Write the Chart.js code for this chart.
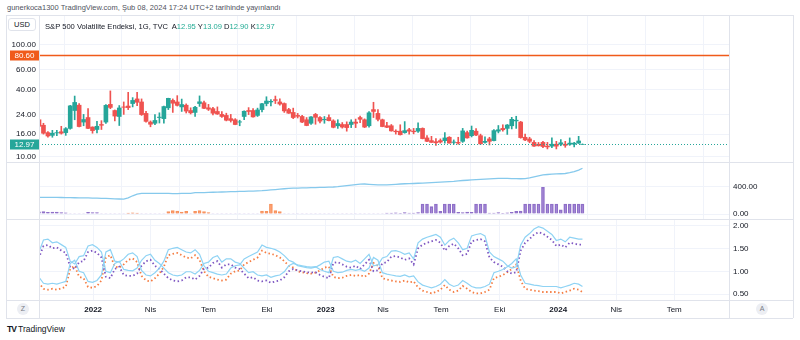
<!DOCTYPE html>
<html><head><meta charset="utf-8">
<script src="https://cdn.jsdelivr.net/npm/chart.js@4.4.1/dist/chart.umd.min.js"></script>
<style>
html,body{margin:0;padding:0;background:#fff;width:800px;height:340px;overflow:hidden;font-family:"Liberation Sans",Arial,sans-serif;color:#131722}
.abs{position:absolute}
canvas{position:absolute}
#hdr{left:7px;top:3px;font-size:7.5px;color:#50535e;white-space:nowrap}
.ln{position:absolute;background:#e0e3eb}
#usd{left:8px;top:18px;width:28px;height:13px;border:1px solid #e0e3eb;border-radius:3px;box-sizing:border-box;font-size:7.5px;line-height:12px;text-align:center;color:#131722;background:#fff}
#leg{left:45px;top:22px;font-size:7.6px;white-space:nowrap;color:#131722}
#leg b{font-weight:normal;color:#22ab94}
.circ{width:12px;height:12px;border-radius:6px;background:#eceef3;font-size:7px;line-height:12px;text-align:center;color:#787b86}
#logo{left:7px;top:324px;font-size:8.5px;color:#131722;white-space:nowrap}
</style></head>
<body>
<div id="hdr" class="abs">gunerkoca1300 TradingView.com, Şub 08, 2024 17:24 UTC+2 tarihinde yayınlandı</div>
<canvas id="c1" width="787" height="147" style="left:6px;top:15px"></canvas>
<canvas id="c2" width="787" height="57" style="left:6px;top:162px"></canvas>
<canvas id="c3" width="787" height="99" style="left:6px;top:219px"></canvas>
<div class="ln" style="left:6px;top:15px;width:787px;height:1px"></div>
<div class="ln" style="left:6px;top:162px;width:787px;height:1px"></div>
<div class="ln" style="left:6px;top:219px;width:787px;height:1px"></div>
<div class="ln" style="left:6px;top:300px;width:787px;height:1px"></div>
<div class="ln" style="left:6px;top:318px;width:787px;height:1px"></div>
<div class="ln" style="left:6px;top:15px;width:1px;height:303px"></div>
<div class="ln" style="left:39px;top:15px;width:1px;height:303px"></div>
<div class="ln" style="left:729px;top:15px;width:1px;height:303px"></div>
<div class="ln" style="left:793px;top:15px;width:1px;height:303px"></div>
<div id="usd" class="abs">USD</div>
<div id="leg" class="abs">S&amp;P 500 Volatilite Endeksi, 1G, TVC&nbsp; A<b>12.95</b> Y<b>13.09</b> D<b>12.90</b> K<b>12.97</b></div>
<div class="abs circ" style="left:17px;top:303px">Z</div>
<div class="abs circ" style="left:756px;top:303px">A</div>
<div id="logo" class="abs"><span style="font-weight:900;letter-spacing:-1px">TV</span> TradingView</div>
<script>
// ---------- DATA ----------
const weekDates = [
'2021-10-01','2021-10-08','2021-10-15','2021-10-22','2021-10-29','2021-11-05','2021-11-12','2021-11-19','2021-11-26','2021-12-03','2021-12-10','2021-12-17','2021-12-24','2021-12-31',
'2022-01-07','2022-01-14','2022-01-21','2022-01-28','2022-02-04','2022-02-11','2022-02-18','2022-02-25','2022-03-04','2022-03-11','2022-03-18','2022-03-25','2022-04-01','2022-04-08','2022-04-15','2022-04-22','2022-04-29','2022-05-06','2022-05-13','2022-05-20','2022-05-27','2022-06-03','2022-06-10','2022-06-17','2022-06-24','2022-07-01','2022-07-08','2022-07-15','2022-07-22','2022-07-29','2022-08-05','2022-08-12','2022-08-19','2022-08-26','2022-09-02','2022-09-09','2022-09-16','2022-09-23','2022-09-30','2022-10-07','2022-10-14','2022-10-21','2022-10-28','2022-11-04','2022-11-11','2022-11-18','2022-11-25','2022-12-02','2022-12-09','2022-12-16','2022-12-23','2022-12-30',
'2023-01-06','2023-01-13','2023-01-20','2023-01-27','2023-02-03','2023-02-10','2023-02-17','2023-02-24','2023-03-03','2023-03-10','2023-03-17','2023-03-24','2023-03-31','2023-04-07','2023-04-14','2023-04-21','2023-04-28','2023-05-05','2023-05-12','2023-05-19','2023-05-26','2023-06-02','2023-06-09','2023-06-16','2023-06-23','2023-06-30','2023-07-07','2023-07-14','2023-07-21','2023-07-28','2023-08-04','2023-08-11','2023-08-18','2023-08-25','2023-09-01','2023-09-08','2023-09-15','2023-09-22','2023-09-29','2023-10-06','2023-10-13','2023-10-20','2023-10-27','2023-11-03','2023-11-10','2023-11-17','2023-11-24','2023-12-01','2023-12-08','2023-12-15','2023-12-22','2023-12-29',
'2024-01-05','2024-01-12','2024-01-19','2024-01-26','2024-02-02','2024-02-08'];

const opens = [18.8,21.5,19.2,16.5,15.6,16.4,16.8,16.5,18.0,26.0,29.0,20.5,22.5,18.5,
17.6,19.5,20.5,29.5,26.0,23.0,28.0,28.5,30.0,33.0,31.0,24.5,20.5,20.0,22.5,22.0,27.5,32.0,31.0,28.0,29.0,26.0,25.0,30.0,30.5,27.5,27.0,25.5,24.0,23.5,22.0,21.5,20.5,23.0,26.0,26.0,23.5,26.5,30.0,31.0,32.5,31.0,30.0,26.5,25.0,23.5,23.0,21.5,20.0,24.0,22.5,21.5,
22.5,21.0,19.0,19.5,19.5,19.5,20.5,22.5,21.5,19.0,26.5,24.5,21.5,19.0,19.0,17.0,17.0,16.5,17.5,17.0,17.0,18.0,14.8,14.0,13.7,14.0,14.0,15.0,13.5,13.5,13.8,16.5,15.5,17.0,15.5,13.5,14.5,14.0,17.0,18.0,18.0,19.0,21.0,20.5,15.0,14.5,13.5,13.0,13.5,12.5,12.5,13.0,
13.0,13.0,13.0,13.0,13.3,12.95];
const highs = [23.4,23.0,20.0,16.9,17.3,17.3,18.8,18.3,28.9,35.0,30.0,24.0,27.0,18.6,
20.8,21.1,29.4,38.9,26.3,28.8,31.0,37.8,33.9,37.8,33.0,25.6,21.0,23.9,24.8,28.5,33.5,33.0,35.3,32.9,29.8,27.5,28.3,35.1,31.5,29.5,27.8,28.0,25.5,24.6,24.0,22.0,21.3,25.8,27.6,27.0,27.3,30.2,34.5,32.5,35.0,33.0,30.4,27.2,27.3,24.5,23.5,22.5,23.0,24.5,23.0,23.0,
23.8,21.5,21.5,20.3,20.6,21.5,21.8,23.2,21.9,25.5,30.8,26.5,21.8,20.4,19.5,17.5,19.4,20.7,18.0,18.0,20.2,18.2,15.5,15.3,14.6,14.5,16.5,15.2,14.2,15.0,18.0,17.0,18.9,17.9,16.0,15.1,15.0,17.6,19.1,19.4,19.5,22.6,23.1,20.8,16.0,15.0,14.0,13.5,13.8,13.5,14.8,13.8,
14.3,13.8,14.8,13.5,15.3,13.09];
const lows = [18.6,18.5,16.0,15.0,15.0,15.5,16.0,15.6,17.7,21.5,18.6,19.0,17.9,16.3,
16.4,17.6,19.9,27.0,21.0,19.1,24.0,26.5,28.0,28.7,23.5,20.5,18.6,19.4,20.1,20.0,26.5,25.0,28.5,25.5,24.7,24.2,23.0,28.3,27.0,26.0,23.8,24.0,22.5,21.0,20.5,19.4,19.0,21.5,23.9,22.7,23.0,25.3,28.6,28.6,30.0,29.0,25.0,24.5,22.0,22.3,20.3,19.0,19.5,19.6,20.1,20.0,
21.0,18.2,18.0,18.1,17.0,18.3,18.3,20.3,18.3,18.5,22.5,21.0,18.6,18.3,17.0,16.0,15.7,16.3,16.0,16.1,16.6,14.5,13.7,13.5,12.7,13.3,13.3,13.3,13.0,13.0,13.5,14.7,15.1,15.5,13.0,13.3,12.8,13.9,16.4,17.0,15.9,17.8,18.0,14.7,14.0,13.4,12.4,12.5,12.1,11.8,12.1,11.8,
12.6,12.2,12.7,12.3,13.2,12.90];
const closes = [21.2,18.8,16.3,15.4,16.3,16.5,16.3,17.9,28.6,30.7,18.7,21.6,18.0,17.2,
18.8,19.2,28.9,27.7,23.2,27.4,27.8,27.6,32.0,30.8,23.9,20.8,19.6,21.2,22.7,28.2,33.4,30.2,28.9,29.4,25.7,24.8,27.8,31.1,27.2,26.7,24.6,24.2,23.0,21.3,21.2,19.5,20.6,25.6,25.5,22.8,26.3,29.9,31.6,31.4,32.0,29.7,25.8,24.6,22.5,23.1,20.5,19.1,22.8,22.6,20.9,21.7,
21.1,18.4,19.9,18.5,18.3,20.5,20.0,21.7,18.5,24.8,25.5,21.7,18.7,18.4,17.1,16.8,15.8,17.2,17.0,16.8,18.0,14.6,13.8,13.5,13.4,13.6,14.8,13.3,13.6,13.3,17.1,14.8,17.3,15.7,13.1,13.8,13.8,17.2,17.5,17.5,19.3,21.7,21.3,14.9,14.2,13.8,12.5,12.6,12.4,12.3,13.0,12.5,
13.4,12.7,13.3,13.3,13.9,12.97];

// middle pane
const trendLine = [248,247,247,246,245,245,244,243, 242,241,240,239,238,236,234,232, 230,227,224,222,221, 240,270,295,305,
306,306,305,305,304,304,303,303,304,305,306, 316,317,318,320,322,324,326,328,330,332,334,336,338,340,343,
345,350,356,362,368,374,380, 382,384,386,388,390,392,393,395,397, 400,405,412,420,428,436,442,444,440,436,
432,430,432,436,440,444,448,450,452,455, 458,462,465,468,472,476,480,484,490,496, 500,504,508,512,516,520,524,527,528,527,
525,523,522,523,535,550,565, 578,585,590,593,596,600,612,627,650,677];
const purpleVol = [30,32,35,25,30,28,22,18, 8,8,8,8, 25,22,20,
8,8,8,8,8,8,8,8,8,8,8,8,8,8,8,8,8,8,8,8,8,8,8,8,8,8,8,8,8,8,8,8,8,8,8,8,8,8,8,8,8,8,8,8,8,8,8,8,8,8,8,8,8,8,8,8,8,8,8,8,8,8,8,8,
15,12,18,10,20,14,12,22, 148,148,110,148, 40, 148,148,148, 25,20,30,25, 148,148,148, 15,12,20,10,18,25,40, 45,
148,148,148,148, 395, 148,148,148, 60,148, 148,148,148,148];
const orangeVol = [0,0,0,0,0,0,0,0,0,0,0,0,0,0,0,0,0,0,0,0,0, 15,18,12, 0,0,0,0,0,0, 35,50,45,30,40, 0, 40,50,35,20,
0,0,0,0,0,0,0,0,0,0,0, 45,40,148,50,35,
0,0,0,0,0,0,0,0,0,0,0,0,0,0,0,0,0,0,0,0,0,0,0,0,0,0,0,0,0,0,0,0,0,0,0,0,0,0,0,0,0,0,0,0,0,0,0,0,0,0,0,0,0,0,0,0,0,0,0,0,0,0,0,0,0,0,0,0];

// bottom pane
const purpleRatio = [1.25,1.30,1.55,1.57,1.50,1.52,1.45,1.40,1.10,1.05,1.20,1.22,1.42,1.45,
1.40,1.30,0.88,0.85,1.05,1.10,0.92,0.90,0.90,0.95,1.12,1.22,1.25,1.12,
1.05,0.95,0.85,0.80,0.78,0.80,0.87,0.87,0.82,0.90,1.05,1.08,1.18,1.22,
1.08,1.15,1.15,1.08,1.05,0.95,0.85,0.87,0.80,0.78,0.80,0.75,0.78,0.80,
0.87,1.00,1.05,1.02,1.00,0.98,0.97,0.98,0.92,0.88,0.85,1.18,1.20,1.15,
1.10,1.08,1.12,1.05,1.15,1.25,1.00,1.02,1.17,1.20,1.32,1.33,1.30,1.25,
1.28,1.15,1.50,1.58,1.62,1.65,1.68,1.62,1.45,1.55,1.60,1.50,1.35,1.38,
1.65,1.68,1.70,1.65,1.30,1.20,1.15,1.10,1.00,0.95,0.98,1.45,1.62,1.70,
1.80,1.85,1.82,1.75,1.68,1.55,1.58,1.52,1.62,1.60,1.58,1.58];
const orangeRatio = [0.78,0.75,0.62,0.60,0.62,0.60,0.63,0.66,1.05,1.12,0.88,0.85,0.66,0.64,
0.68,0.80,1.30,1.35,1.10,1.08,1.15,1.25,1.28,1.20,0.90,0.80,0.78,0.85,
0.95,1.10,1.35,1.38,1.40,1.35,1.30,1.28,1.35,1.25,1.00,0.88,0.85,0.82,
0.80,0.82,0.95,1.00,1.02,1.15,1.20,1.25,1.30,1.45,1.40,1.38,1.35,1.30,
1.22,1.12,1.08,1.00,0.98,0.96,0.95,0.97,1.02,1.08,1.10,0.88,0.85,0.86,
0.90,0.92,0.90,0.92,0.88,0.95,1.18,1.12,0.85,0.82,0.80,0.78,0.77,0.80,
0.76,0.78,0.65,0.58,0.55,0.52,0.55,0.60,0.70,0.60,0.55,0.58,0.68,0.62,
0.55,0.52,0.52,0.55,0.60,0.85,0.88,0.92,0.98,1.05,1.15,0.80,0.62,0.60,
0.58,0.57,0.55,0.55,0.55,0.55,0.52,0.55,0.58,0.62,0.60,0.55];
const purpleBand = [1.36,1.42,1.68,1.70,1.62,1.64,1.58,1.52,1.22,1.16,1.32,1.34,1.55,1.58,
1.52,1.42,1.00,0.97,1.17,1.22,1.04,1.02,1.01,1.07,1.24,1.34,1.37,1.24,
1.17,1.07,0.97,0.92,0.90,0.92,0.99,0.99,0.94,1.02,1.17,1.20,1.30,1.34,
1.20,1.27,1.27,1.20,1.17,1.07,0.97,0.99,0.92,0.90,0.92,0.87,0.90,0.92,
0.99,1.12,1.17,1.14,1.12,1.10,1.09,1.10,1.04,1.00,0.97,1.30,1.32,1.27,
1.22,1.20,1.24,1.17,1.27,1.37,1.12,1.14,1.29,1.32,1.44,1.45,1.42,1.37,
1.40,1.27,1.62,1.70,1.74,1.77,1.80,1.74,1.57,1.67,1.72,1.62,1.47,1.50,
1.77,1.80,1.82,1.77,1.42,1.32,1.27,1.22,1.12,1.07,1.10,1.57,1.74,1.82,
1.92,1.97,1.94,1.87,1.80,1.67,1.70,1.64,1.74,1.72,1.70,1.70];
const orangeBand = [0.90,0.87,0.74,0.72,0.74,0.72,0.75,0.78,1.17,1.24,1.00,0.97,0.78,0.76,
0.80,0.92,1.42,1.47,1.22,1.20,1.27,1.37,1.40,1.32,1.02,0.92,0.90,0.97,
1.07,1.22,1.47,1.50,1.52,1.47,1.42,1.40,1.47,1.37,1.12,1.00,0.97,0.94,
0.92,0.94,1.07,1.12,1.14,1.27,1.32,1.37,1.42,1.57,1.52,1.50,1.47,1.42,
1.34,1.24,1.20,1.12,1.10,1.08,1.07,1.09,1.14,1.20,1.22,1.00,0.97,0.98,
1.02,1.04,1.02,1.04,1.00,1.07,1.30,1.24,0.97,0.94,0.92,0.90,0.89,0.92,
0.88,0.90,0.77,0.70,0.67,0.64,0.67,0.72,0.82,0.72,0.67,0.70,0.80,0.74,
0.67,0.64,0.64,0.67,0.72,0.97,1.00,1.04,1.10,1.17,1.27,0.92,0.74,0.72,
0.70,0.69,0.67,0.67,0.67,0.67,0.64,0.67,0.70,0.74,0.72,0.67];

const tickDays  = [0,90,181,273,365,455,546,638,730,821,912];
const tickNames = ['2022','Nis','Tem','Eki','2023','Nis','Tem','Eki','2024','Nis','Tem'];
const priceTicks = [10,16,24,40,60,100];
const volTicks = [0,400];
const ratioTicks = [0.5,1,1.5,2];
const lastPrice = 12.97;
const levelPrice = 80.60;

// ---------- HELPERS ----------
const FONT = '"Liberation Sans", Arial, sans-serif';
const T0 = Date.UTC(2022,0,1);
const xs = weekDates.map(d => { const [y,m,dd] = d.split('-').map(Number); return (Date.UTC(y,m-1,dd)-T0)/86400000; });
const pts = arr => arr.map((v,i) => ({x: xs[i], y: v}));
const UP = '#26a69a', DN = '#ef5350';
const candleCol = opens.map((o,i) => closes[i] >= o ? UP : DN);
const GRID = '#f0f3fa';
const noPad = s => { s.paddingTop = 0; s.paddingBottom = 0; s.paddingLeft = 0; s.paddingRight = 0; };

function xAxis(labels){
  return {
    type:'linear', min:-85, max:998, offset:false,
    afterBuildTicks: s => { s.ticks = tickDays.map(v => ({value:v})); },
    afterFit: s => { s.height = labels ? 18 : 0; noPad(s); },
    grid:{color:GRID, drawTicks:false}, border:{display:false},
    ticks:{display:labels, autoSkip:false, maxRotation:0, padding:5, color:'#131722',
      font: c => ({family:FONT, size:8, weight: /^\d{4}$/.test(tickNames[c.index]) ? 'bold' : 'normal'}),
      callback:(v,i) => tickNames[i]}
  };
}
function yAxisRight(min,max,ticks){
  return {
    position:'right', min:min, max:max,
    afterBuildTicks: s => { s.ticks = ticks.map(v => ({value:v})); },
    afterFit: s => { s.width = 64; noPad(s); },
    grid:{color:GRID, drawTicks:false}, border:{display:false},
    ticks:{padding:4, color:'#131722', font:{family:FONT,size:8}, autoSkip:false, callback: v => Number(v).toFixed(2)}
  };
}
const base = {responsive:false, animation:false, devicePixelRatio:1,
  plugins:{legend:{display:false}, tooltip:{enabled:false}}, events:[]};

// ---------- MAIN PANE ----------
const priceLabels = {
  id:'priceLabels',
  afterDatasetsDraw(chart){
    const {ctx, chartArea:a, scales:{y}} = chart;
    ctx.save();
    const yl = Math.round(y.getPixelForValue(levelPrice)) + 0.5;
    ctx.strokeStyle = '#f05a1a'; ctx.lineWidth = 1.5;
    ctx.beginPath(); ctx.moveTo(a.left, yl); ctx.lineTo(a.right, yl); ctx.stroke();
    const yp = Math.round(y.getPixelForValue(lastPrice)) + 0.5;
    ctx.strokeStyle = '#26a69a'; ctx.lineWidth = 1; ctx.setLineDash([1,2]);
    ctx.beginPath(); ctx.moveTo(a.left, yp); ctx.lineTo(a.right, yp); ctx.stroke();
    ctx.setLineDash([]);
    const box = (val, py, col) => {
      ctx.fillStyle = col; ctx.fillRect(4, py - 5, a.left - 4, 10);
      ctx.fillStyle = '#fff'; ctx.font = '8px ' + FONT; ctx.textAlign = 'center'; ctx.textBaseline = 'middle';
      ctx.fillText(val.toFixed(2), 4 + (a.left - 4)/2, py + 0.5);
    };
    box(levelPrice, yl, '#f05a1a');
    box(lastPrice, yp, '#26a69a');
    ctx.restore();
  }
};
new Chart(document.getElementById('c1'), {
  type:'bar',
  data:{datasets:[
    {label:'wick', data: xs.map((x,i) => ({x, y:[lows[i], highs[i]]})), backgroundColor:candleCol, barThickness:1, grouped:false, clip:0},
    {label:'body', data: xs.map((x,i) => ({x, y:[opens[i], closes[i]]})), backgroundColor:candleCol, barThickness:4, grouped:false, clip:0}
  ]},
  options:{...base,
    layout:{autoPadding:false, padding:{left:0,right:64,top:0,bottom:0}},
    scales:{
      x: xAxis(false),
      y:{type:'logarithmic', position:'left', min:9.02, max:185.3,
        afterBuildTicks: s => { s.ticks = priceTicks.map(v => ({value:v})); },
        afterFit: s => { s.width = 33; noPad(s); },
        grid:{color:GRID, drawTicks:false}, border:{display:false},
        ticks:{padding:3, color:'#131722', font:{family:FONT,size:8}, autoSkip:false, callback: v => Number(v).toFixed(2)}}
    }},
  plugins:[priceLabels]
});

// ---------- MIDDLE PANE ----------
new Chart(document.getElementById('c2'), {
  type:'bar',
  data:{datasets:[
    {type:'line', data: pts(trendLine), borderColor:'#86c9ec', borderWidth:1.3, pointRadius:0, tension:0, clip:0, order:0},
    {data: pts(purpleVol), backgroundColor:'rgba(149,117,205,0.55)', borderColor:'#8e6fc8', borderWidth:1, barThickness:3, grouped:false, clip:0, order:2},
    {data: pts(orangeVol), backgroundColor:'rgba(255,152,102,0.6)', borderColor:'#f7925c', borderWidth:1, barThickness:3, grouped:false, clip:0, order:1}
  ]},
  options:{...base,
    layout:{autoPadding:false, padding:{left:33,right:0,top:0,bottom:0}},
    scales:{ x: xAxis(false), y: yAxisRight(-74, 770, volTicks) }}
});

// ---------- BOTTOM PANE ----------
new Chart(document.getElementById('c3'), {
  type:'line',
  data:{datasets:[
    {data: pts(purpleBand), borderColor:'#8fd3f4', borderWidth:1.2, pointRadius:0, clip:0},
    {data: pts(orangeBand), borderColor:'#8fd3f4', borderWidth:1.2, pointRadius:0, clip:0},
    {data: pts(purpleRatio), borderColor:'#7e57c2', borderWidth:1.8, borderDash:[1.5,2.5], pointRadius:0, clip:0},
    {data: pts(orangeRatio), borderColor:'#f57d42', borderWidth:1.8, borderDash:[1.5,2.5], pointRadius:0, clip:0}
  ]},
  options:{...base,
    layout:{autoPadding:false, padding:{left:33,right:0,top:0,bottom:0}},
    scales:{ x: xAxis(true), y: yAxisRight(0.376, 2.137, ratioTicks) }}
});
</script>
</body></html>
